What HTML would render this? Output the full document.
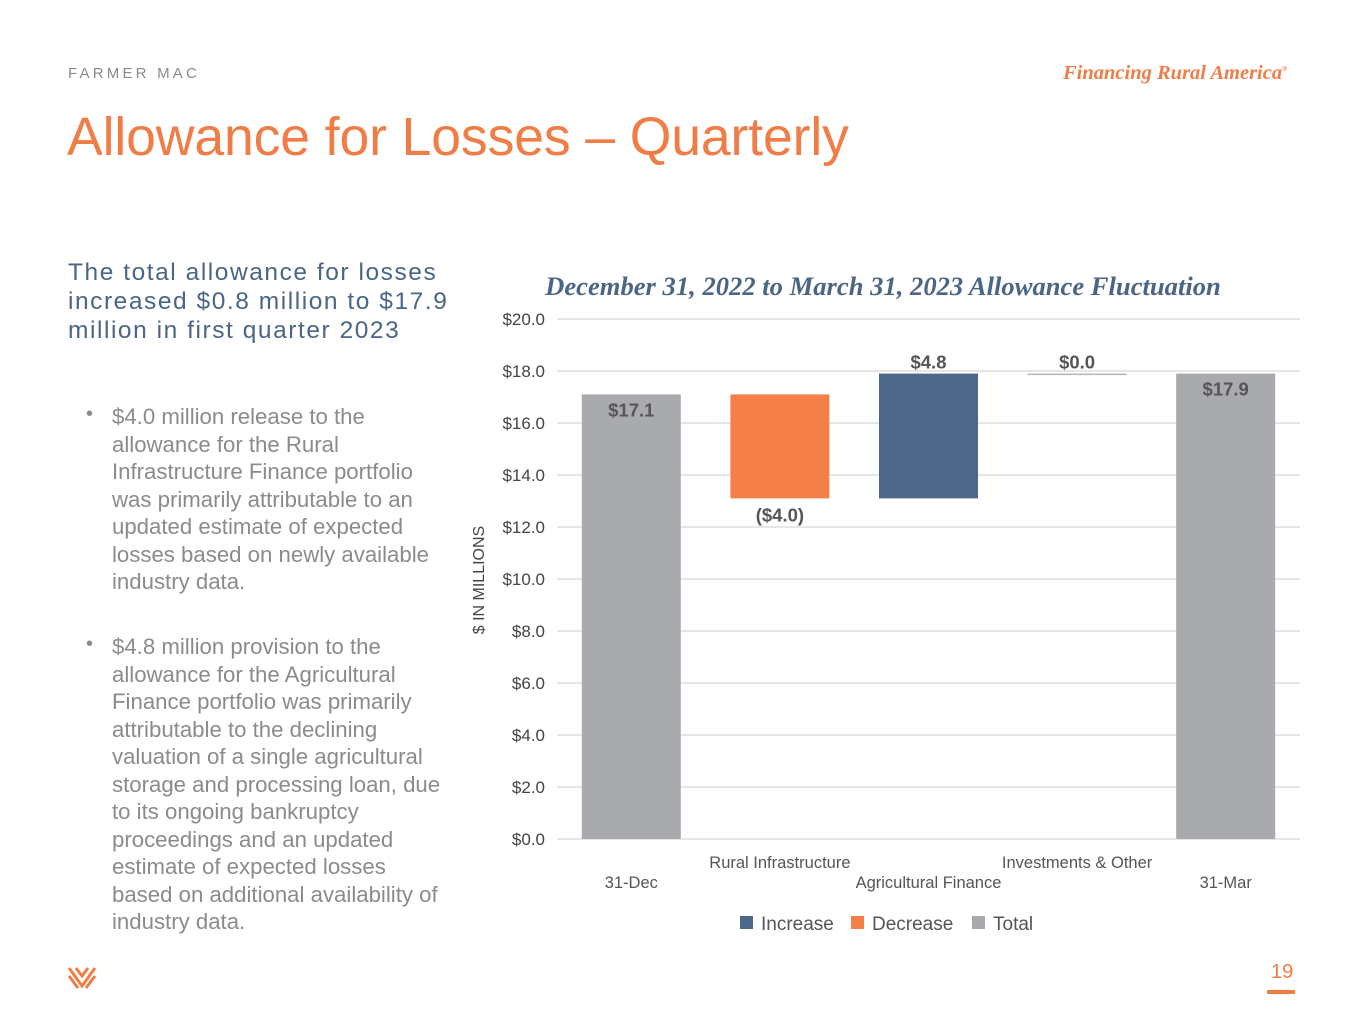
<!DOCTYPE html>
<html><head><meta charset="utf-8"><style>
body{margin:0;width:1365px;height:1024px;background:#fff;position:relative;overflow:hidden;font-family:"Liberation Sans",sans-serif}
.abs{position:absolute}
</style></head><body>
<div class="abs" style="left:68px;top:65px;font-size:15px;letter-spacing:3.2px;color:#8a8a8a">FARMER MAC</div>
<div class="abs" style="left:1063px;top:62px;font-family:'Liberation Serif',serif;font-style:italic;font-weight:bold;font-size:20.5px;color:#f07c46;white-space:nowrap">Financing Rural America<sup style="font-size:7px">®</sup></div>
<div class="abs" style="left:67px;top:107px;font-size:53.5px;color:#f07c46;letter-spacing:-0.1px">Allowance for Losses – Quarterly</div>
<div class="abs" style="left:68px;top:258px;font-size:24.5px;line-height:29px;color:#4a6585;letter-spacing:1.55px;white-space:nowrap">The total allowance for losses<br>increased $0.8 million to $17.9<br>million in first quarter 2023</div>
<div class="abs" style="left:112px;top:403px;font-size:22.2px;line-height:27.5px;color:#8b8b8b;white-space:nowrap">$4.0 million release to the<br>allowance for the Rural<br>Infrastructure Finance portfolio<br>was primarily attributable to an<br>updated estimate of expected<br>losses based on newly available<br>industry data.</div>
<div class="abs" style="left:86px;top:403px;font-size:20px;color:#8b8b8b">•</div>
<div class="abs" style="left:112px;top:633px;font-size:22.2px;line-height:27.5px;color:#8b8b8b;white-space:nowrap">$4.8 million provision to the<br>allowance for the Agricultural<br>Finance portfolio was primarily<br>attributable to the declining<br>valuation of a single agricultural<br>storage and processing loan, due<br>to its ongoing bankruptcy<br>proceedings and an updated<br>estimate of expected losses<br>based on additional availability of<br>industry data.</div>
<div class="abs" style="left:86px;top:633px;font-size:20px;color:#8b8b8b">•</div>
<svg class="abs" style="left:68px;top:966px" width="28" height="24">
<g stroke="#f07c46" stroke-width="3" fill="none"><path d="M1 2 L14 20 L27 2"/><path d="M1 10 L10 22"/><path d="M27 10 L18 22"/><path d="M8 2 L14 10 L20 2"/></g></svg>
<div class="abs" style="left:1271px;top:961px;font-size:20px;color:#f07c46">19</div>
<div class="abs" style="left:1267px;top:990px;width:28px;height:4px;background:#f07c46"></div>

<svg id="chart" class="abs" style="left:0;top:0" width="1365" height="1024"></svg>
<script>
const categories=["31-Dec","Rural Infrastructure","Agricultural Finance","Investments & Other","31-Mar"];
const values=[17.1,-4.0,4.8,0.0,17.9];
const kinds=["total","decrease","increase","increase","total"];
const labels=["$17.1","($4.0)","$4.8","$0.0","$17.9"];
const yTicks=[0,2,4,6,8,10,12,14,16,18,20];
const yTickLabels=["$0.0","$2.0","$4.0","$6.0","$8.0","$10.0","$12.0","$14.0","$16.0","$18.0","$20.0"];
const NS="http://www.w3.org/2000/svg",svg=document.getElementById('chart');
const X0=557,X1=1300,Y0=839,Y1=319;
const y=v=>Y0-(v/20)*(Y0-Y1);
const band=(X1-X0)/categories.length;
const xc=i=>X0+band*(i+0.5);
const bw=99;
const colors={total:"#a9aaad",decrease:"#f47f47",increase:"#4d6788"};
function mk(t,a,txt){const e=document.createElementNS(NS,t);for(const k in a)e.setAttribute(k,a[k]);if(txt!==undefined)e.textContent=txt;svg.appendChild(e);return e;}
let tt=mk('text',{x:883,y:295,'text-anchor':'middle','font-family':'Liberation Serif,serif','font-style':'italic','font-weight':'bold','font-size':26.6,fill:'#4a6585'},'December 31, 2022 to March 31, 2023 Allowance Fluctuation');


yTicks.forEach((t,i)=>{
 const g=mk('line',{x1:X0,x2:X1,y1:y(t),y2:y(t),stroke:'#dedede','stroke-width':1.5});
 
 
 const l=mk('text',{x:545,y:y(t)+6,'text-anchor':'end','font-size':17,fill:'#444'},yTickLabels[i]);
 
 
});
let yt=mk('text',{x:484,y:580,'text-anchor':'middle','font-size':16,fill:'#444',transform:'rotate(-90 484 580)'},'$ IN MILLIONS');


let run=0;
values.forEach((v,i)=>{
 let lo,hi;
 if(kinds[i]==='total'){lo=0;hi=v;run=v;}
 else{const s=run;run=s+v;lo=Math.min(s,run);hi=Math.max(s,run);}
 const h=Math.max(y(lo)-y(hi),1.5);
 const r=mk('rect',{x:xc(i)-bw/2,y:y(hi),width:bw,height:h,fill:(v===0&&kinds[i]!=='total')?'#b5b5b5':colors[kinds[i]]});
 
 
 let ly;
 if(kinds[i]==='total')ly=y(hi)+22;
 else if(v<0)ly=y(lo)+23;
 else ly=y(hi)-5;
 const l=mk('text',{x:xc(i),y:ly,'text-anchor':'middle','font-size':18.5,'font-weight':'bold',fill:'#555'},labels[i]);
 
 
 const c=mk('text',{x:xc(i),y:(i%2?868:888),'text-anchor':'middle','font-size':16.5,fill:'#555'},categories[i]);
 
 
});
const leg=[["Increase","increase",740],["Decrease","decrease",851],["Total","total",972]];
leg.forEach(([t,k,x])=>{
 const s=mk('rect',{x:x,y:916,width:13,height:13,fill:colors[k]});
 
 
 const l=mk('text',{x:x+21,y:930,'font-size':19,fill:'#555'},t);
 
 
});
</script>
</body></html>
